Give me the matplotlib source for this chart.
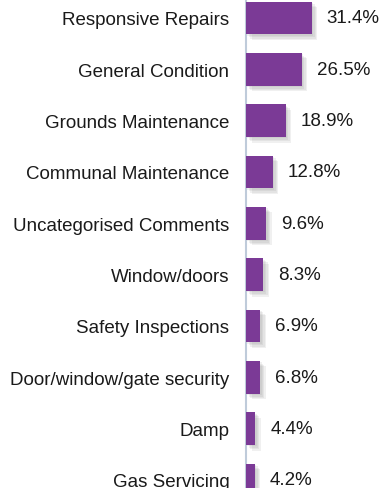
import numpy as np
import matplotlib.pyplot as plt
import matplotlib.patheffects as pe

categories = [
    "Responsive Repairs",
    "General Condition",
    "Grounds Maintenance",
    "Communal Maintenance",
    "Uncategorised Comments",
    "Window/doors",
    "Safety Inspections",
    "Door/window/gate security",
    "Damp",
    "Gas Servicing",
]
values = [31.4, 26.5, 18.9, 12.8, 9.6, 8.3, 6.9, 6.8, 4.4, 4.2]

plt.rcParams["font.family"] = ["Liberation Sans", "DejaVu Sans"]

fig = plt.figure(figsize=(3.82, 4.89), dpi=100)
ax = fig.add_axes([246 / 382, 0, 136 / 382, 1])

y = np.arange(len(categories))
bars = ax.barh(y, values, height=0.64, color="#7B3A96", zorder=3)

# soft drop shadow: a few faint offset copies
shadow = [pe.SimplePatchShadow(offset=(d, -d), shadow_rgbFace="#888888", alpha=0.12)
          for d in (1.0, 2.0, 3.0, 4.0)]
for b in bars:
    b.set_path_effects(shadow + [pe.Normal()])

for yi, v in zip(y, values):
    ax.text(v + 7.1, yi, f"{v}%", va="center", ha="left", fontsize=13.5, color="#1a1a1a")

ax.set_xlim(0, 64.8)
ax.set_ylim(9.156, -0.37)
ax.set_yticks(y)
ax.set_yticklabels(categories, fontsize=13.5, color="#1a1a1a")
ax.tick_params(axis="y", length=0, pad=12)
ax.set_xticks([])
for s in ["top", "right", "bottom"]:
    ax.spines[s].set_visible(False)
ax.spines["left"].set_color("#BFCBDA")
ax.spines["left"].set_linewidth(1.5)

fig.savefig("out.png", dpi=100)
